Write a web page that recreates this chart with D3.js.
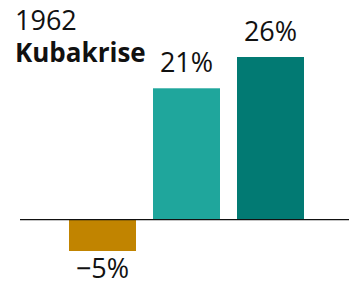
<!DOCTYPE html>
<html>
<head>
<meta charset="utf-8">
<script src="https://cdn.jsdelivr.net/npm/d3@7"></script>
<style>
  body { margin: 0; background: #fff; }
  text { font-family: "Open Sans", Lato, sans-serif; fill: #111; }
</style>
</head>
<body>
<script>
// data
const categories = ["a", "b", "c"];
const values = [-5, 21, 26];
const colors = ["#c18400", "#1fa69c", "#027a73"];
const labels = ["\u22125%", "21%", "26%"];
const titleYear = "1962";
const titleName = "Kubakrise";

const width = 349, height = 282;

const svg = d3.select("body").append("svg")
    .attr("width", width)
    .attr("height", height);

const x = d3.scaleBand()
    .domain(categories)
    .range([60.5, 312.5])
    .paddingInner(17 / 84)
    .paddingOuter(17 / 168);

const y = d3.scaleLinear()
    .domain([-5, 26])
    .range([251, 57]);

// bars
svg.selectAll(".bar")
    .data(values)
    .enter().append("rect")
    .attr("class", "bar")
    .attr("x", (d, i) => x(categories[i]))
    .attr("width", x.bandwidth())
    .attr("y", d => Math.min(y(d), y(0)))
    .attr("height", d => Math.abs(y(d) - y(0)))
    .attr("fill", (d, i) => colors[i]);

// zero line
svg.append("line")
    .attr("x1", 20).attr("x2", width)
    .attr("y1", y(0)).attr("y2", y(0))
    .attr("stroke", "#111")
    .attr("stroke-width", 1.3);

// value labels
svg.selectAll(".lbl")
    .data(values)
    .enter().append("text")
    .attr("class", "lbl")
    .attr("x", (d, i) => x(categories[i]) + x.bandwidth() / 2)
    .attr("y", d => d >= 0 ? y(d) - 16 : y(d) + 27)
    .attr("text-anchor", "middle")
    .attr("font-size", 27)
    .text((d, i) => labels[i]);

// title
svg.append("text")
    .attr("x", 15).attr("y", 30)
    .attr("font-size", 27)
    .text(titleYear);
svg.append("text")
    .attr("x", 15).attr("y", 62)
    .attr("font-size", 26)
    .attr("font-weight", "bold")
    .text(titleName);
</script>
</body>
</html>
